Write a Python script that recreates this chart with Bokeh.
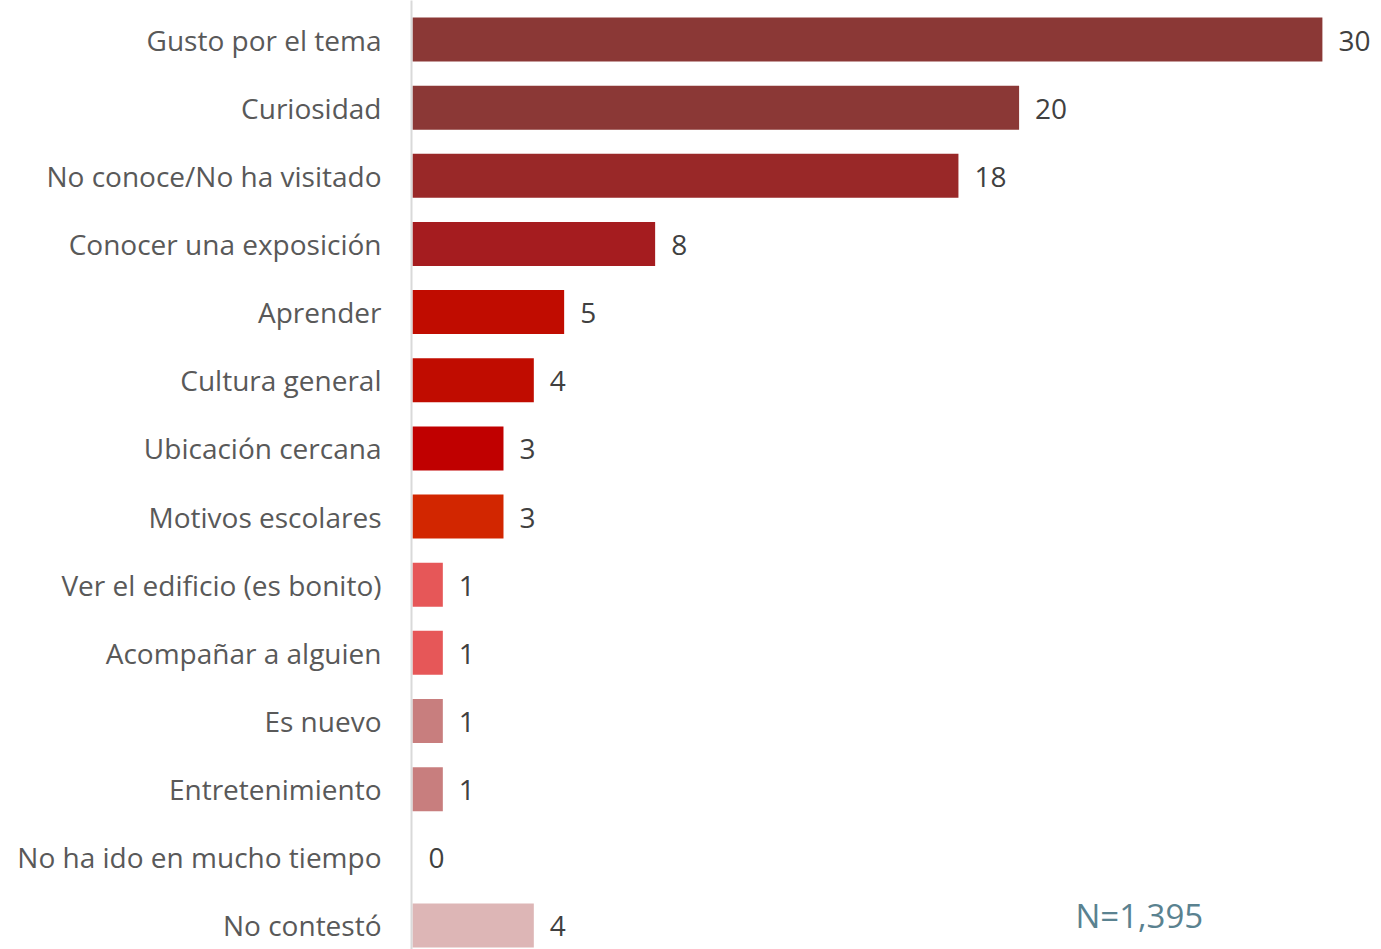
from bokeh.plotting import figure
from bokeh.models import Range1d, FixedTicker, ColumnDataSource, Label
from bokeh.core.properties import value
from bokeh.embed import file_html
from bokeh.resources import INLINE

categories = ["Gusto por el tema", "Curiosidad", "No conoce/No ha visitado",
              "Conocer una exposición", "Aprender", "Cultura general",
              "Ubicación cercana", "Motivos escolares", "Ver el edificio (es bonito)",
              "Acompañar a alguien", "Es nuevo", "Entretenimiento",
              "No ha ido en mucho tiempo", "No contestó"]
values = [30, 20, 18, 8, 5, 4, 3, 3, 1, 1, 1, 1, 0, 4]
colors = ["#8B3836", "#8B3836", "#992828", "#A51C1F", "#C00C00", "#C00C00",
          "#C00000", "#D22600", "#E65758", "#E65758", "#C87E7E", "#C87E7E",
          "#C87E7E", "#DDB6B6"]
note = "N=1,395"

pos = list(range(len(categories)))
labels = [str(v) for v in values]

src = ColumnDataSource(dict(y=pos, v=values, c=colors, t=labels))

FONT = "Open Sans"
W, H = 1381, 949
frame_left = 411
px_per_unit = 30.33
row = 68.15

x_start = -1.0 / px_per_unit
x_end = x_start + (W - frame_left) / px_per_unit
y_top = (0 - 39) / row
y_bot = (H - 39) / row

p = figure(width=W, height=H, output_backend="svg", toolbar_location=None,
           x_range=Range1d(x_start, x_end), y_range=Range1d(y_bot, y_top),
           x_axis_location=None, min_border_left=frame_left, min_border_right=0,
           min_border_top=0, min_border_bottom=0)
p.outline_line_color = None
p.xgrid.visible = False
p.ygrid.visible = False

p.hbar(y="y", left=0, right="v", height=0.646, fill_color="c", line_color=None, source=src)
p.text(x="v", y="y", text="t", source=src, x_offset=16, y_offset=1,
       text_baseline="middle", text_align="left", text_font=value(FONT),
       text_font_size="28px", text_color="#404040")

ax = p.yaxis[0]
ax.ticker = FixedTicker(ticks=pos)
ax.major_label_overrides = {i: c for i, c in zip(pos, categories)}
ax.major_tick_line_color = None
ax.minor_tick_line_color = None
ax.axis_line_color = "#D9D9D9"
ax.axis_line_width = 2
ax.major_label_standoff = 24
ax.major_label_text_font = FONT
ax.major_label_text_font_size = "28px"
ax.major_label_text_color = "#595959"

p.add_layout(Label(x=(1075 - 412) / px_per_unit, y=(915 - 39) / row, text=note,
                   text_font=FONT, text_font_size="33px", text_color="#5A8290",
                   text_baseline="middle", text_align="left"))

open("out.html", "w").write(file_html(p, INLINE))
